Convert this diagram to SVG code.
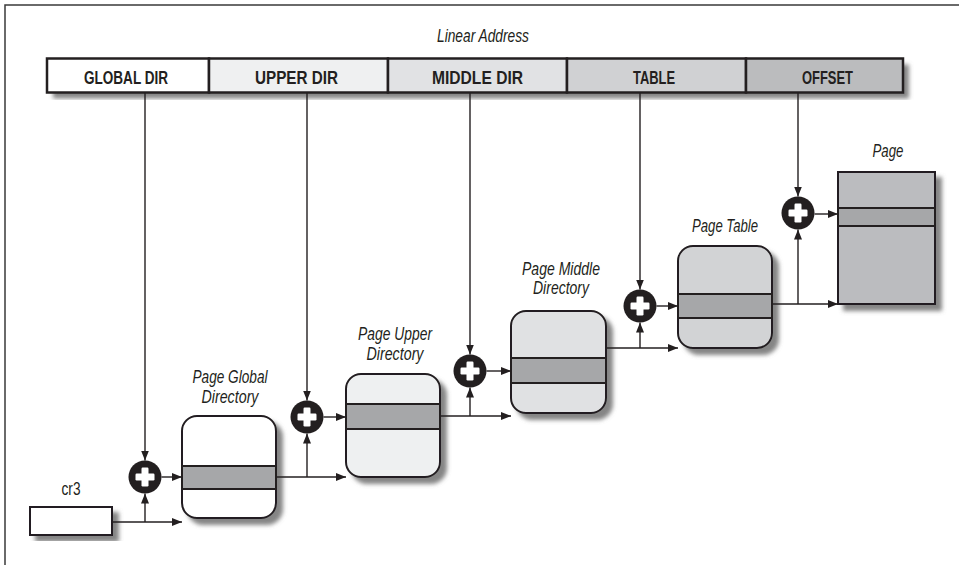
<svg xmlns="http://www.w3.org/2000/svg" width="959" height="565" viewBox="0 0 959 565">
<style>
.frame{stroke:#3a3a3a;stroke-width:1.5;fill:none}
.seg{stroke:#231f20;stroke-width:2.5}
.bt{font-family:"Liberation Sans Narrow","Liberation Sans",Arial,sans-serif;font-weight:bold;font-size:19px;fill:#231f20;text-anchor:middle}
.lbl{font-family:"Liberation Sans Narrow","Liberation Sans",Arial,sans-serif;font-style:italic;font-size:19px;fill:#231f20;text-anchor:middle}
.reg{font-family:"Liberation Sans Narrow","Liberation Sans",Arial,sans-serif;font-size:19px;fill:#231f20;text-anchor:middle}
.box{stroke:#231f20;stroke-width:2}
.band{fill:#a6a7a9;stroke:#231f20;stroke-width:2}
.ln{stroke:#231f20;stroke-width:1.4;fill:none}
.arr{marker-end:url(#ah)}
.plus{fill:#fff}
</style>
<defs>
<marker id="ah" viewBox="0 0 10 8" refX="10" refY="4" markerWidth="10" markerHeight="8" markerUnits="userSpaceOnUse" orient="auto">
<path d="M0,0 L10,4 L0,8 z" fill="#231f20"/>
</marker>
<filter id="sh" x="-10%" y="-10%" width="130%" height="130%">
<feDropShadow dx="6" dy="6" stdDeviation="2" flood-color="#6f6f6f" flood-opacity="0.85"/>
</filter>
<g id="plusSign">
<circle r="16.5" fill="#231f20"/>
<rect x="-9.5" y="-3.5" width="19" height="7" rx="1.2" class="plus"/>
<rect x="-3.5" y="-9.5" width="7" height="19" rx="1.2" class="plus"/>
</g>
</defs>
<rect width="959" height="565" fill="#fff"/>
<path class="frame" d="M5,565 V5 H959"/>

<text class="lbl" x="483" y="42" textLength="92" lengthAdjust="spacingAndGlyphs">Linear Address</text>

<g id="linear-address">
<rect x="47" y="58.5" width="856" height="34" fill="#fff" filter="url(#sh)"/>
<rect class="seg" x="47" y="58.5" width="162" height="34" fill="#ffffff"/>
<rect class="seg" x="209" y="58.5" width="179" height="34" fill="#eff0f1"/>
<rect class="seg" x="388" y="58.5" width="179" height="34" fill="#e1e2e4"/>
<rect class="seg" x="567" y="58.5" width="179" height="34" fill="#d0d1d3"/>
<rect class="seg" x="746" y="58.5" width="157" height="34" fill="#bbbcbe"/>
<text class="bt" x="126" y="83.5" textLength="84" lengthAdjust="spacingAndGlyphs">GLOBAL DIR</text>
<text class="bt" x="296.5" y="83.5" textLength="83" lengthAdjust="spacingAndGlyphs">UPPER DIR</text>
<text class="bt" x="477.5" y="83.5" textLength="91" lengthAdjust="spacingAndGlyphs">MIDDLE DIR</text>
<text class="bt" x="654" y="83.5" textLength="42" lengthAdjust="spacingAndGlyphs">TABLE</text>
<text class="bt" x="827.5" y="83.5" textLength="51" lengthAdjust="spacingAndGlyphs">OFFSET</text>
</g>

<g id="cr3">
<rect class="box" x="30" y="507" width="82" height="28" fill="#fff" stroke-width="2.8" filter="url(#sh)"/>
<text class="reg" x="71" y="495" textLength="19" lengthAdjust="spacingAndGlyphs">cr3</text>
</g>

<g id="pgd">
<rect class="box" x="182" y="416" width="94" height="102" rx="15" fill="#ffffff" filter="url(#sh)"/>
<rect class="band" x="182" y="466" width="94" height="23"/>
<text class="lbl" x="230" y="383" textLength="75" lengthAdjust="spacingAndGlyphs">Page Global</text>
<text class="lbl" x="230" y="403" textLength="57" lengthAdjust="spacingAndGlyphs">Directory</text>
</g>

<g id="pud">
<rect class="box" x="346" y="374" width="94" height="103" rx="15" fill="#eef0f1" filter="url(#sh)"/>
<rect class="band" x="346" y="404" width="94" height="25"/>
<text class="lbl" x="395" y="340" textLength="74" lengthAdjust="spacingAndGlyphs">Page Upper</text>
<text class="lbl" x="395" y="360" textLength="57" lengthAdjust="spacingAndGlyphs">Directory</text>
</g>

<g id="pmd">
<rect class="box" x="511" y="311" width="95" height="102" rx="15" fill="#e0e1e3" filter="url(#sh)"/>
<rect class="band" x="511" y="358" width="95" height="25"/>
<text class="lbl" x="561" y="275" textLength="78" lengthAdjust="spacingAndGlyphs">Page Middle</text>
<text class="lbl" x="561" y="294" textLength="56" lengthAdjust="spacingAndGlyphs">Directory</text>
</g>

<g id="pt">
<rect class="box" x="678" y="246" width="94" height="102" rx="15" fill="#d2d3d5" filter="url(#sh)"/>
<rect class="band" x="678" y="294" width="94" height="24"/>
<text class="lbl" x="725" y="232" textLength="66" lengthAdjust="spacingAndGlyphs">Page Table</text>
</g>

<g id="page">
<rect class="box" x="838" y="172" width="97" height="132" fill="#bbbcbf" filter="url(#sh)"/>
<rect class="band" x="838" y="208" width="97" height="18" fill="#a5a6a8"/>
<text class="lbl" x="888" y="157" textLength="31" lengthAdjust="spacingAndGlyphs">Page</text>
</g>

<g id="adders">
<use href="#plusSign" x="145" y="477"/>
<use href="#plusSign" x="307" y="417"/>
<use href="#plusSign" x="470" y="371"/>
<use href="#plusSign" x="640" y="306"/>
<use href="#plusSign" x="798" y="213"/>
</g>

<g id="connectors">
<line class="ln arr" x1="145" y1="93" x2="145" y2="460.5"/>
<line class="ln arr" x1="307" y1="93" x2="307" y2="400.5"/>
<line class="ln arr" x1="470" y1="93" x2="470" y2="354.5"/>
<line class="ln arr" x1="640" y1="93" x2="640" y2="289.5"/>
<line class="ln arr" x1="798" y1="93" x2="798" y2="196.5"/>
<line class="ln arr" x1="112" y1="522" x2="182" y2="522"/>
<line class="ln arr" x1="145" y1="522" x2="145" y2="493.5"/>
<line class="ln arr" x1="276" y1="477" x2="346" y2="477"/>
<line class="ln arr" x1="307" y1="477" x2="307" y2="433.5"/>
<line class="ln arr" x1="440" y1="416" x2="511" y2="416"/>
<line class="ln arr" x1="470" y1="416" x2="470" y2="387.5"/>
<line class="ln arr" x1="606" y1="348" x2="678" y2="348"/>
<line class="ln arr" x1="640" y1="348" x2="640" y2="322.5"/>
<line class="ln arr" x1="772" y1="304" x2="838" y2="304"/>
<line class="ln arr" x1="798" y1="304" x2="798" y2="229.5"/>
<line class="ln arr" x1="161.5" y1="477" x2="182" y2="477"/>
<line class="ln arr" x1="323.5" y1="417" x2="346" y2="417"/>
<line class="ln arr" x1="486.5" y1="371" x2="511" y2="371"/>
<line class="ln arr" x1="656.5" y1="306" x2="678" y2="306"/>
<line class="ln arr" x1="814.5" y1="214" x2="838" y2="214"/>
</g>
</svg>
